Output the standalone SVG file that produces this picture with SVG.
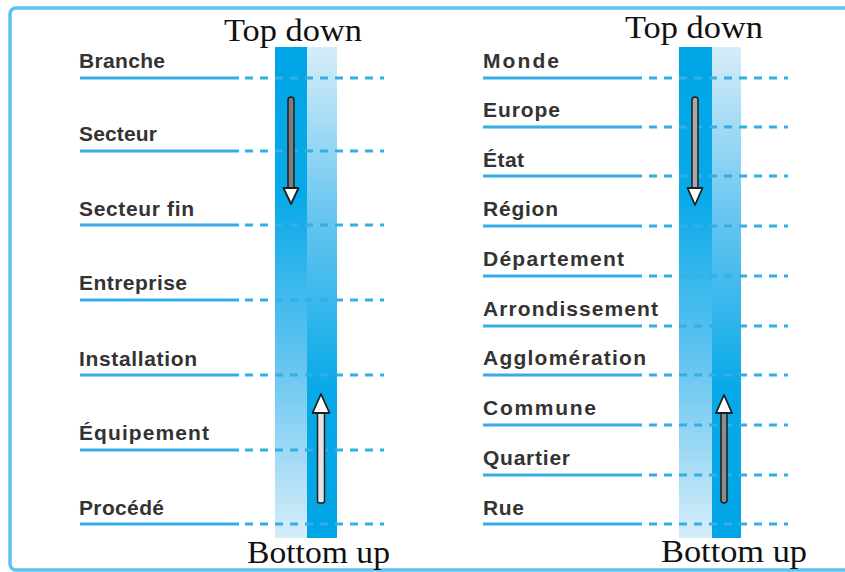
<svg xmlns="http://www.w3.org/2000/svg" width="845" height="572" viewBox="0 0 845 572">
<style>
.lbl{font-family:"Liberation Sans",Arial,sans-serif;font-weight:bold;font-size:21px;fill:#333}
.ttl{font-family:"Liberation Serif","Times New Roman",serif;font-size:31px;fill:#111}
.solid{stroke:#35aee6;stroke-width:3;fill:none}
.dash{stroke:#35aee6;stroke-width:3;fill:none;stroke-dasharray:8 7}
.shaft{stroke:#1e1e1e;stroke-width:1.5}
.head{fill:#fff;stroke:#1e1e1e;stroke-width:1.8;stroke-linejoin:round}
</style>
<defs>
<linearGradient id="gDown" x1="0" y1="0" x2="0" y2="1">
<stop offset="0" stop-color="#00a5e6"/>
<stop offset="0.3" stop-color="#08a9e8"/>
<stop offset="0.65" stop-color="#66c5f0"/>
<stop offset="1" stop-color="#d6edf9"/>
</linearGradient>
<linearGradient id="gUp" x1="0" y1="0" x2="0" y2="1">
<stop offset="0" stop-color="#d6edf9"/>
<stop offset="0.35" stop-color="#66c5f0"/>
<stop offset="0.7" stop-color="#08a9e8"/>
<stop offset="1" stop-color="#00a5e6"/>
</linearGradient>
</defs>
<rect width="845" height="572" fill="#fff"/>
<rect id="frame" x="10" y="8" width="860" height="562" rx="6" fill="none" stroke="#5cc2ef" stroke-width="3.5"/>

<g id="bars-left">
<rect x="275" y="47" width="32" height="491" fill="url(#gDown)"/>
<rect x="307" y="47" width="30" height="491" fill="url(#gUp)"/>
</g>
<g id="bars-right">
<rect x="679" y="47" width="33" height="491" fill="url(#gDown)"/>
<rect x="712" y="47" width="29" height="491" fill="url(#gUp)"/>
</g>

<g id="levels">
<g class="solid">
<path d="M80 78H239M80 151H239M80 225H239M80 300H239M80 375H239M80 450H239M80 524H239"/>
<path d="M483 78H642M483 127H642M483 176H642M483 226H642M483 276H642M483 326H642M483 375H642M483 425H642M483 475H642M483 524H642"/>
</g>
<g class="dash">
<path d="M245 78H384M245 151H384M245 225H384M245 300H384M245 375H384M245 450H384M245 524H384"/>
<path d="M649 78H788M649 127H788M649 176H788M649 226H788M649 276H788M649 326H788M649 375H788M649 425H788M649 475H788M649 524H788"/>
</g>
</g>

<g id="node-branche"><text class="lbl" x="79" y="68" textLength="86" lengthAdjust="spacing">Branche</text></g>
<g id="node-secteur"><text class="lbl" x="79" y="141" textLength="78" lengthAdjust="spacing">Secteur</text></g>
<g id="node-secteur-fin"><text class="lbl" x="79" y="216" textLength="115" lengthAdjust="spacing">Secteur fin</text></g>
<g id="node-entreprise"><text class="lbl" x="79" y="290" textLength="108" lengthAdjust="spacing">Entreprise</text></g>
<g id="node-installation"><text class="lbl" x="79" y="366" textLength="118" lengthAdjust="spacing">Installation</text></g>
<g id="node-equipement"><text class="lbl" x="79" y="440" textLength="130" lengthAdjust="spacing">Équipement</text></g>
<g id="node-procede"><text class="lbl" x="79" y="515" textLength="85" lengthAdjust="spacing">Procédé</text></g>

<g id="node-monde"><text class="lbl" x="483" y="68" textLength="76" lengthAdjust="spacing">Monde</text></g>
<g id="node-europe"><text class="lbl" x="483" y="117" textLength="77" lengthAdjust="spacing">Europe</text></g>
<g id="node-etat"><text class="lbl" x="483" y="167" textLength="41" lengthAdjust="spacing">État</text></g>
<g id="node-region"><text class="lbl" x="483" y="216" textLength="75" lengthAdjust="spacing">Région</text></g>
<g id="node-departement"><text class="lbl" x="483" y="266" textLength="141" lengthAdjust="spacing">Département</text></g>
<g id="node-arrondissement"><text class="lbl" x="483" y="316" textLength="175" lengthAdjust="spacing">Arrondissement</text></g>
<g id="node-agglomeration"><text class="lbl" x="483" y="365" textLength="163" lengthAdjust="spacing">Agglomération</text></g>
<g id="node-commune"><text class="lbl" x="483" y="415" textLength="113" lengthAdjust="spacing">Commune</text></g>
<g id="node-quartier"><text class="lbl" x="483" y="465" textLength="87" lengthAdjust="spacing">Quartier</text></g>
<g id="node-rue"><text class="lbl" x="483" y="515" textLength="41" lengthAdjust="spacing">Rue</text></g>

<g id="titles">
<text class="ttl" x="224" y="41" textLength="138" lengthAdjust="spacingAndGlyphs">Top down</text>
<text class="ttl" x="247" y="563" textLength="143" lengthAdjust="spacingAndGlyphs">Bottom up</text>
<text class="ttl" x="625" y="38" textLength="138" lengthAdjust="spacingAndGlyphs">Top down</text>
<text class="ttl" x="661" y="562" textLength="146" lengthAdjust="spacingAndGlyphs">Bottom up</text>
</g>

<g id="connectors">
<g id="arrow-left-down">
<rect class="shaft" x="288" y="97" width="6" height="93" rx="3" fill="#7d7d7d"/>
<path class="head" d="M283.5 188H298.5L291 204Z"/>
</g>
<g id="arrow-left-up">
<rect class="shaft" x="317.5" y="410" width="7" height="93" rx="2" fill="#e4e4e4"/>
<path class="head" d="M312.5 413H329.5L321 394Z"/>
</g>
<g id="arrow-right-down">
<rect class="shaft" x="692" y="97" width="6" height="93" rx="3" fill="#a8a8a8"/>
<path class="head" d="M687.5 188H702.5L695 205Z"/>
</g>
<g id="arrow-right-up">
<rect class="shaft" x="721" y="410" width="6" height="93" rx="3" fill="#8c8c8c"/>
<path class="head" d="M716 413H732L724 395Z"/>
</g>
</g>
</svg>
